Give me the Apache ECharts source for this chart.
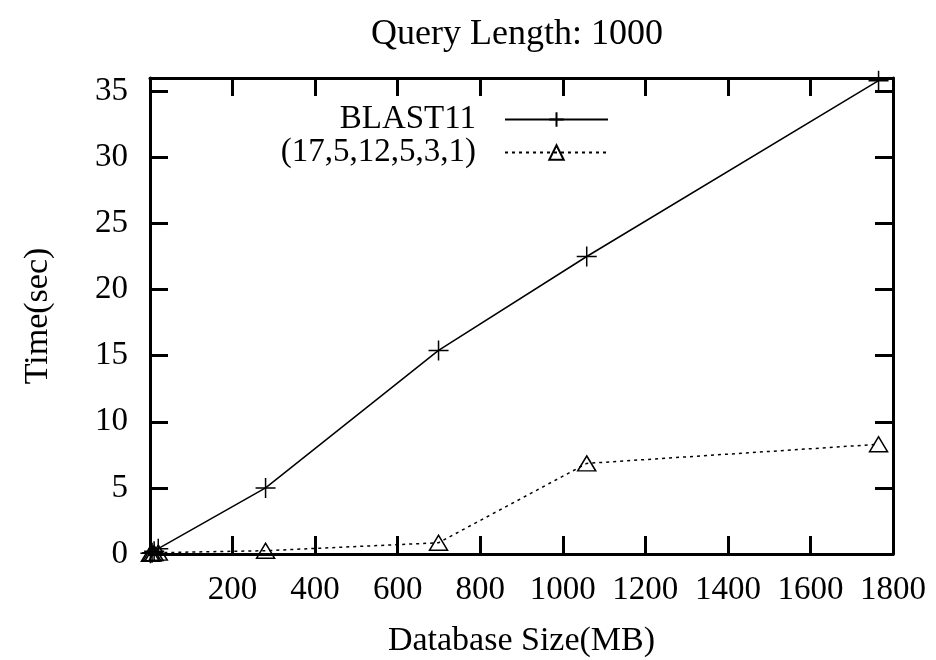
<!DOCTYPE html>
<html>
<head>
<meta charset="utf-8">
<script src="https://cdn.jsdelivr.net/npm/echarts@6/dist/echarts.min.js"></script>
<style>html,body{margin:0;padding:0;background:#fff}#c{width:936px;height:660px}</style>
</head>
<body>
<div id="c"></div>
<script>
const titleText = 'Query Length: 1000';
const xName = 'Database Size(MB)';
const yName = 'Time(sec)';
const seriesNames = ['BLAST11', '(17,5,12,5,3,1)'];
const sizes = [1, 5, 10, 20, 280, 699, 1058, 1765];
const blast = [0.05, 0.1, 0.2, 0.4, 5.0, 15.4, 22.5, 35.8];
const seeds = [0.02, 0.04, 0.07, 0.1, 0.25, 0.85, 6.85, 8.3];
const xTicks = [0, 200, 400, 600, 800, 1000, 1200, 1400, 1600, 1800];
const yTicks = [0, 5, 10, 15, 20, 25, 30, 35];

const font = 'Liberation Serif';
const chart = echarts.init(document.getElementById('c'));
const plusPath = 'path://M0,-10L0,10M-10,0L10,0';
function pairs(xs, ys) { return xs.map((x, i) => [x, ys[i]]); }
const axisLine = { show: true, onZero: false, lineStyle: { color: '#000', width: 3 } };
const tick = (vals) => ({ show: true, inside: true, length: 18, customValues: vals,
  lineStyle: { color: '#000', width: 3 } });
chart.setOption({
  animation: false,
  title: { text: titleText, left: 512, top: 12, textAlign: 'center',
    textStyle: { fontFamily: font, fontSize: 36, fontWeight: 'normal', color: '#000' } },
  grid: { left: 150, right: 43, top: 78, bottom: 106, containLabel: false, outerBoundsMode: 'none' },
  legend: {
    orient: 'vertical', right: 327, top: 103, align: 'right', padding: 0,
    itemWidth: 103, itemHeight: 18, itemGap: 0,
    textStyle: { fontFamily: font, fontSize: 33, color: '#000', padding: [0, 24, 0, 0] },
    data: seriesNames
  },
  xAxis: [{
    type: 'value', min: 0, max: 1800, interval: 200,
    name: xName, nameLocation: 'middle', nameGap: 70,
    nameTextStyle: { fontFamily: font, fontSize: 34, color: '#000' },
    axisLine: axisLine, axisTick: tick(xTicks), splitLine: { show: false },
    axisLabel: { fontFamily: font, fontSize: 33, color: '#000', margin: 20,
      customValues: xTicks.filter(v => v !== 0), formatter: v => String(v) }
  }, {
    type: 'value', position: 'top', min: 0, max: 1800, interval: 200,
    axisLine: axisLine, axisTick: tick(xTicks), splitLine: { show: false },
    axisLabel: { show: false }
  }],
  yAxis: [{
    type: 'value', min: 0, max: 36, interval: 5,
    name: yName, nameLocation: 'middle', nameGap: 95, nameRotate: 90,
    nameTextStyle: { fontFamily: font, fontSize: 34, color: '#000' },
    axisLine: axisLine, axisTick: tick(yTicks), splitLine: { show: false },
    axisLabel: { fontFamily: font, fontSize: 33, color: '#000', margin: 22,
      customValues: yTicks, formatter: v => String(v) }
  }, {
    type: 'value', position: 'right', min: 0, max: 36, interval: 5,
    axisLine: axisLine, axisTick: tick(yTicks), splitLine: { show: false },
    axisLabel: { show: false }
  }],
  series: [{
    name: seriesNames[0], type: 'line', data: pairs(sizes, blast),
    symbol: plusPath, symbolSize: 20, showAllSymbol: true,
    lineStyle: { color: '#000', width: 1.5 },
    itemStyle: { color: 'transparent', borderColor: '#000', borderWidth: 1.5 }
  }, {
    name: seriesNames[1], type: 'line', data: pairs(sizes, seeds),
    symbol: 'triangle', symbolSize: [18, 15], showAllSymbol: true,
    lineStyle: { color: '#000', width: 1.5, type: [3, 4] },
    itemStyle: { color: 'transparent', borderColor: '#000', borderWidth: 1.5 }
  }]
});
</script>
</body>
</html>
